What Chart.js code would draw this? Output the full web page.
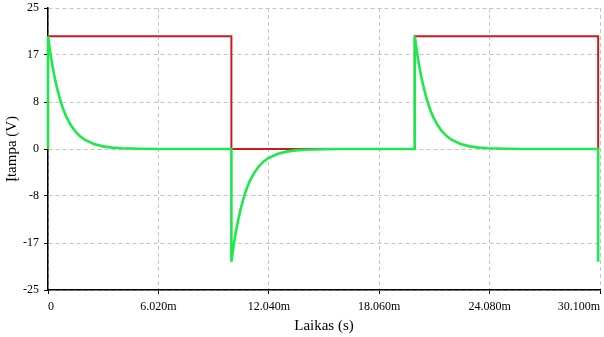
<!DOCTYPE html>
<html>
<head>
<meta charset="utf-8">
<script src="https://cdn.jsdelivr.net/npm/chart.js@4/dist/chart.umd.min.js"></script>
<style>
  html, body { margin: 0; padding: 0; background: #fff; }
  #wrap { width: 604px; height: 337px; }
</style>
</head>
<body>
<div id="wrap"><canvas id="c" width="604" height="337"></canvas></div>
<script>
// Time in ms
const greenT = [0, 0, 0.125, 0.25, 0.375, 0.5, 0.625, 0.75, 0.875, 1, 1.25, 1.5, 1.75, 2, 2.5, 3, 3.5, 4, 5, 6, 10,
  10, 10.125, 10.25, 10.375, 10.5, 10.625, 10.75, 10.875, 11, 11.25, 11.5, 11.75, 12, 12.5, 13, 13.5, 14, 15, 16, 20,
  20, 20.125, 20.25, 20.375, 20.5, 20.625, 20.75, 20.875, 21, 21.25, 21.5, 21.75, 22, 22.5, 23, 23.5, 24, 25, 26, 30, 30];
const greenV = [0, 20, 17.1, 14.6, 12.5, 10.7, 9.2, 7.8, 6.7, 5.7, 4.2, 3.07, 2.24, 1.64, 0.88, 0.47, 0.25, 0.13, 0.04, 0, 0,
  -20, -17.1, -14.6, -12.5, -10.7, -9.2, -7.8, -6.7, -5.7, -4.2, -3.07, -2.24, -1.64, -0.88, -0.47, -0.25, -0.13, -0.04, 0, 0,
  20, 17.1, 14.6, 12.5, 10.7, 9.2, 7.8, 6.7, 5.7, 4.2, 3.07, 2.24, 1.64, 0.88, 0.47, 0.25, 0.13, 0.04, 0, 0, -20];
const redT = [0, 10, 10, 20, 20, 30, 30];
const redV = [20, 20, 0, 0, 20, 20, 0];

const xTickValues = [0, 6.02, 12.04, 18.06, 24.08, 30.1];
const xTickLabels = ['0', '6.020m', '12.040m', '18.060m', '24.080m', '30.100m'];
const yTickValues = [25, 16.667, 8.333, 0, -8.333, -16.667, -25];
const yTickLabels = ['25', '17', '8', '0', '-8', '-17', '-25'];

const toPts = (t, v) => t.map((x, i) => ({ x: x, y: v[i] }));
const serif = 'Liberation Serif';

new Chart(document.getElementById('c'), {
  type: 'line',
  data: {
    datasets: [
      { label: 'green', data: toPts(greenT, greenV), borderColor: '#1ee84c', borderWidth: 2.6,
        pointRadius: 0, tension: 0, fill: false, clip: false },
      { label: 'red', data: toPts(redT, redV), borderColor: '#cc1a1e', borderWidth: 2,
        pointRadius: 0, tension: 0, fill: false, clip: false }
    ]
  },
  options: {
    responsive: false,
    animation: false,
    events: [],
    layout: { padding: { left: 0, right: 4, top: 8, bottom: 0 } },
    plugins: { legend: { display: false }, tooltip: { enabled: false } },
    scales: {
      x: {
        type: 'linear', min: 0, max: 30.1,
        afterBuildTicks: s => { s.ticks = xTickValues.map(v => ({ value: v })); },
        afterFit: s => { s.height = 47; s.paddingLeft = 0; s.paddingRight = 0; },
        ticks: {
          autoSkip: false, maxRotation: 0, align: 'inner', padding: 6,
          color: '#000', font: { family: serif, size: 12 },
          callback: (v, i) => xTickLabels[i]
        },
        grid: { color: '#c4c4c4', lineWidth: 1, tickLength: 4, tickColor: '#000', tickWidth: 1 },
        border: { display: true, color: '#000', width: 1.5, dash: [4, 3] },
        title: { display: true, text: 'Laikas (s)', color: '#000', font: { family: serif, size: 15 },
          padding: { top: 0, bottom: 2 } }
      },
      y: {
        type: 'linear', min: -25, max: 25,
        afterBuildTicks: s => { s.ticks = yTickValues.map(v => ({ value: v })); },
        afterFit: s => { s.width = 48; s.paddingTop = 0; s.paddingBottom = 0; },
        ticks: {
          autoSkip: false, padding: 5,
          color: '#000', font: { family: serif, size: 12 },
          callback: (v, i) => yTickLabels[i]
        },
        grid: { color: '#c4c4c4', lineWidth: 1, tickLength: 4, tickColor: '#000', tickWidth: 1 },
        border: { display: true, color: '#000', width: 1.5, dash: [4, 3] },
        title: { display: true, text: 'Įtampa (V)', color: '#000', font: { family: serif, size: 15 },
          padding: { top: 3, bottom: 0 } }
      }
    }
  }
});
</script>
</body>
</html>
